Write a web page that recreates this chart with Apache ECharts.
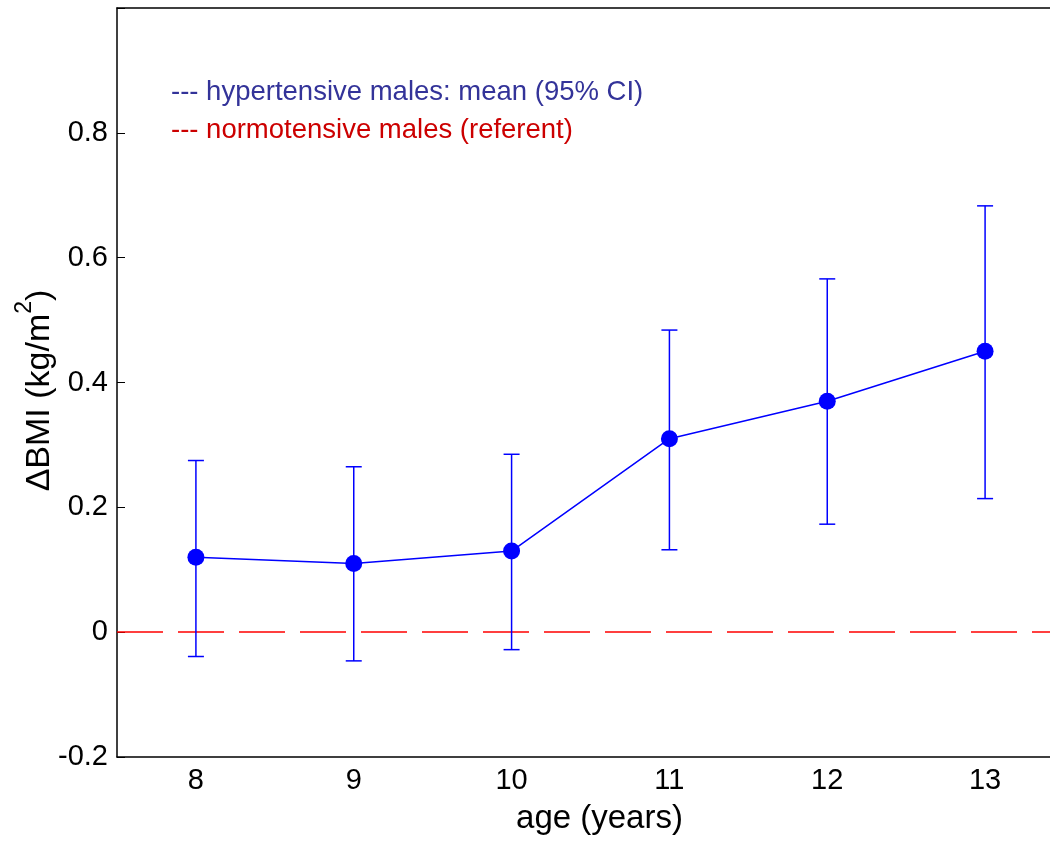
<!DOCTYPE html>
<html>
<head>
<meta charset="utf-8">
<script src="https://cdn.jsdelivr.net/npm/echarts@6/dist/echarts.min.js"></script>
<style>
  html, body { margin: 0; padding: 0; background: #fff; }
  #chart { width: 1050px; height: 842px; }
</style>
</head>
<body>
<div id="chart"></div>
<script>
const ages = ["8", "9", "10", "11", "12", "13"];
const means = [0.12, 0.11, 0.13, 0.31, 0.37, 0.45];
const lower = [-0.039, -0.046, -0.028, 0.132, 0.173, 0.214];
const upper = [0.275, 0.265, 0.285, 0.484, 0.566, 0.683];
const yTicks = [-0.2, 0, 0.2, 0.4, 0.6, 0.8];

const FONT = "Liberation Sans, Arial, Helvetica, sans-serif";
const BLUE = "#0000ff";

const chart = echarts.init(document.getElementById("chart"));

const errData = ages.map((a, i) => [i, lower[i], upper[i]]);

const option = {
  animation: false,
  textStyle: { fontFamily: FONT },
  grid: {
    left: 117, right: -14, top: 8, bottom: 85,
    containLabel: false,
    outerBoundsMode: "none",
  },
  xAxis: [
    {
      type: "category",
      data: ages,
      boundaryGap: true,
      position: "bottom",
      name: "age (years)",
      nameLocation: "middle",
      nameGap: 45,
      nameTextStyle: { fontSize: 33, color: "#000", fontFamily: FONT, padding: [0, 0, 0, 18] },
      axisLine: { onZero: false, lineStyle: { color: "#000", width: 1.5 } },
      axisTick: { inside: true, alignWithLabel: true, length: 8, lineStyle: { color: "#000", width: 1 } },
      axisLabel: { fontSize: 29, color: "#000", margin: 9, fontFamily: FONT },
      splitLine: { show: false },
    },
    {
      type: "category",
      data: ages,
      boundaryGap: true,
      position: "top",
      axisLine: { onZero: false, lineStyle: { color: "#000", width: 1.5 } },
      axisTick: { inside: true, alignWithLabel: true, length: 8, lineStyle: { color: "#000", width: 1 } },
      axisLabel: { show: false },
      splitLine: { show: false },
    },
  ],
  yAxis: {
    type: "value",
    min: -0.2,
    max: 1.0,
    interval: 0.2,
    name: "{a|ΔBMI (kg/m}{s|2}{a|)}",
    nameLocation: "middle",
    nameGap: 60,
    nameMoveOverlap: false,
    nameTextStyle: {
      color: "#000",
      padding: [0, 16, 0, 0],
      rich: {
        a: { fontSize: 34, fontFamily: FONT, color: "#000", lineHeight: 44, verticalAlign: "bottom" },
        s: { fontSize: 23, fontFamily: FONT, color: "#000", lineHeight: 44, verticalAlign: "top" },
      },
    },
    axisLine: { show: true, onZero: false, lineStyle: { color: "#000", width: 1.5 } },
    axisTick: { show: true, inside: true, length: 8, lineStyle: { color: "#000", width: 1 } },
    axisLabel: {
      fontSize: 29,
      color: "#000",
      margin: 9,
      fontFamily: FONT,
      formatter: (v) => {
        const r = Math.round(v * 10) / 10;
        return yTicks.includes(r) ? String(r) : "";
      },
    },
    splitLine: { show: false },
  },
  graphic: [
    {
      type: "text",
      left: 171,
      top: 78,
      style: { text: "--- hypertensive males: mean (95% CI)", fill: "#333399", font: "27.5px " + FONT },
    },
    {
      type: "text",
      left: 171,
      top: 116,
      style: { text: "--- normotensive males (referent)", fill: "#cc0000", font: "27.5px " + FONT },
    },
  ],
  series: [
    {
      type: "custom",
      name: "CI",
      xAxisIndex: 0,
      data: errData,
      z: 2,
      renderItem: (params, api) => {
        const i = api.value(0);
        const lo = api.coord([i, api.value(1)]);
        const hi = api.coord([i, api.value(2)]);
        const hw = 8;
        const st = { stroke: BLUE, lineWidth: 1.5 };
        return {
          type: "group",
          children: [
            { type: "line", shape: { x1: lo[0], y1: lo[1], x2: hi[0], y2: hi[1] }, style: st },
            { type: "line", shape: { x1: lo[0] - hw, y1: lo[1], x2: lo[0] + hw, y2: lo[1] }, style: st },
            { type: "line", shape: { x1: hi[0] - hw, y1: hi[1], x2: hi[0] + hw, y2: hi[1] }, style: st },
          ],
        };
      },
    },
    {
      type: "line",
      name: "mean",
      xAxisIndex: 0,
      data: means,
      z: 3,
      symbol: "circle",
      symbolSize: 17,
      itemStyle: { color: BLUE },
      lineStyle: { color: BLUE, width: 1.5 },
      markLine: {
        silent: true,
        symbol: ["none", "none"],
        label: { show: false },
        lineStyle: { color: "#ff0000", width: 1.5, type: [46, 15] },
        data: [{ yAxis: 0 }],
        z: 1,
      },
    },
  ],
};

chart.setOption(option);
</script>
</body>
</html>
